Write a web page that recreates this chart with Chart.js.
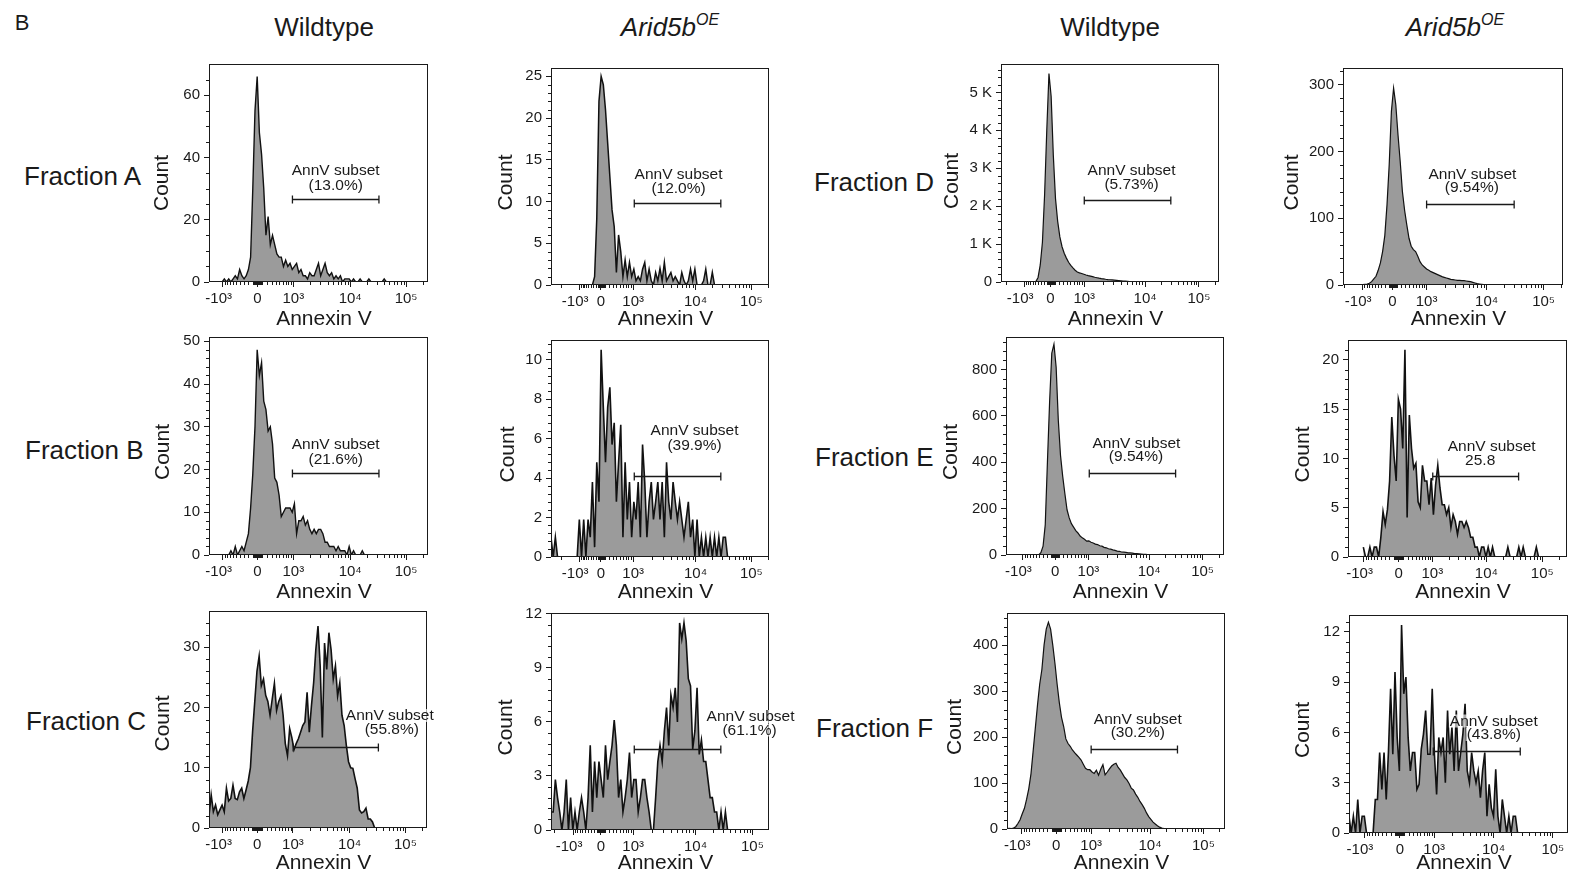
<!DOCTYPE html>
<html>
<head>
<meta charset="utf-8">
<title>Annexin V staining</title>
<script src="https://cdn.jsdelivr.net/npm/chart.js@4.4.1/dist/chart.umd.min.js"></script>
<style>
  html, body { margin: 0; padding: 0; background: #fff; }
  body { position: relative; width: 1576px; height: 877px; overflow: hidden;
         font-family: "Liberation Sans", Arial, Helvetica, sans-serif; color: #1a1a1a; }
  .lbl { position: absolute; white-space: nowrap; line-height: 1; transform: translate(-50%, -50%); }
  .row { position: absolute; white-space: nowrap; line-height: 1; transform: translateY(-50%); font-size: 26px; }
  .head { font-size: 26px; }
  .head sup { font-size: 16px; vertical-align: 0; position: relative; top: -11px; }
  canvas { position: absolute; }
</style>
</head>
<body>
<div class="lbl" style="left:22px;top:23px;font-size:22px">B</div>
<div class="lbl head" style="left:324px;top:27px">Wildtype</div>
<div class="lbl head" style="left:670px;top:27px"><i>Arid5b<sup>OE</sup></i></div>
<div class="lbl head" style="left:1110px;top:27px">Wildtype</div>
<div class="lbl head" style="left:1455px;top:27px"><i>Arid5b<sup>OE</sup></i></div>

<div class="row" style="left:24px;top:176px">Fraction A</div>
<div class="row" style="left:25px;top:450px">Fraction B</div>
<div class="row" style="left:26px;top:721px">Fraction C</div>
<div class="row" style="left:814px;top:182px">Fraction D</div>
<div class="row" style="left:815px;top:457px">Fraction E</div>
<div class="row" style="left:816px;top:728px">Fraction F</div>

<script>
// Annexin V histograms. The x axis is biexponential, so it is laid out in
// display units (0-100 across the plot); every histogram is a run of
// one-unit bins beginning at its start bin.
const xTickLabels = ['-10³\u2007', '0', '10³', '10⁴', '10⁵'];

// ---- Fraction A ----
const fracA_wt = [0,1,0,1,0,1,2,1,4,2,1,2,4,8,30,55,66,48,41,30,15,21,12,15,12,9,8,8,5,7,5,6,4,5,6,3,4,2,2,1,3,2,2,4,6,2,4,6,3,2,3,1,2,1,2,0,1,1,1,0,1,0,0,1,0,0,0,1,0,0,0,0,0,0,1,0];
const fracA_wt_from = 6;
const fracA_oe = [0,1,8,22,25,24,21,17,13,9,7,1.5,6,4,1,3,1,2.7,1,1.9,0.5,1,0.5,1.9,2.7,0.5,1.9,0.5,0,1.5,0.5,2,0.5,2.7,0.5,1,1.5,0.5,1,0.5,0,1.5,0.5,0,0.5,1.9,0.5,1.9,0,0,0,0.5,1.9,0,0,1.5,0];
const fracA_oe_from = 19;

// ---- Fraction B ----
const fracB_wt = [0,1,0,2,0,1,2,1,3,5,11,19,30,48,42,45,36,34,29,30,26,18,17,14,9,10,11,11,11,10,12,5,8,8,9,7,8,6,5,6,5,6,6,5,3,3,2,2,2,1,2,1,1,1,0,2,0,1,0,0,0,1,0];
const fracB_wt_from = 9;
const fracB_oe = [1,0,1,0,0,0,0,0,0,0,0,0,0,1.9,0,1.9,0,1.9,1,3.8,0.5,4.8,2.8,10.5,7.6,4.8,7.6,8.6,5.7,6.8,2.8,4.8,6.7,1,4.8,1.9,3.8,1,2.8,1.9,3.8,1,5.7,3.8,1,2.8,3.8,1.9,2.8,3.8,1.9,3.8,1,4.8,2.8,1.9,3.8,2.8,1.9,2.8,1.9,1,1.9,2.8,1,1.9,0,1.9,0,1,0,1,0,1,0,1,0,1,0,1,1,0];
const fracB_oe_from = 0;

// ---- Fraction C ----
const fracC_wt = [2,5.5,2.7,3.8,2.2,3,3.8,2.7,6.6,4.5,4.9,7.1,4.9,4.7,6,6.6,4.9,6.3,7.8,10,16,21,26,28.5,23.6,24.7,22,21,18.7,21.4,24,19.5,21,21.9,18.7,14,12,16.5,15,13,14,14.8,15.9,17,17.6,22.5,15.9,20.3,24.1,29.6,33.5,26.9,15,30.7,26.3,32.4,29.6,24.7,26.9,21.9,24.1,18.7,17,13.7,11,10,9.9,8.2,6.6,3,2.5,2.7,3.3,1.5,1.5,1,0];
const fracC_wt_from = 0;
const fracC_oe = [1,1,2.8,1.8,1,0,1,2.8,0,1.8,0,1,0,1,1.8,1,0,1.8,4.7,1,3.8,1.8,3.8,2.8,1.8,4.7,2.8,3.8,4.7,6.1,4.7,1.8,2.8,1,1.8,2.8,4.3,1.8,2.8,2.8,1,1.8,2.8,2.8,1.8,1,0,0,1.8,3.8,4.7,3.8,5.5,6.8,4.7,7.5,6.8,7.9,6,11.5,10.6,11.5,10.5,8.4,8,4.5,5.5,7.9,4.2,5,3.8,3.8,2.8,1.8,1.8,1,1,0,1,0,1,0];
const fracC_oe_from = 0;

// ---- Fraction D ----
const fracD_wt = [10,120,450,1050,2300,4000,5500,4900,3340,2200,1600,1190,930,760,630,520,440,370,310,265,240,225,205,185,170,157,142,125,112,100,90,82,72,65,60,55,50,45,38,32,27,22,15,8,3,0];
const fracD_wt_from = 16;
const fracD_oe = [0,0.5,1,1.5,2.5,5,9,13,22,33,50,74,120,180,260,295,270,225,185,140,112,90,70,58,53,50,43,35,30,27,24,22,20,18.5,17,15.5,14,12.5,11.5,10.5,9.5,8.5,8,7.5,7,7,6.5,6.5,6,5.5,5,4,3,2,1.5,1,0.5,0.3,0];
const fracD_oe_from = 8;

// ---- Fraction E ----
const fracE_wt = [0,10,38,130,400,660,870,909,810,580,430,340,265,195,160,135,120,105,95,82,74,68,60,61,55,52,47,45,40,38,33,31,27,25,22,20,17,16,13,12,11,9,9,8,6,6,5,4,3,2.5,2,1.5,0];
const fracE_wt_from = 15;
const fracE_oe = [1,0,0,1,0,1,1,0,2,4.6,3.3,4.8,7.7,14.2,10.3,7.7,16,15,11,21,4,14.4,11,9,9.5,5.6,5,9.3,7.7,7.7,5.3,8,4.3,7.3,9.3,7,5.3,5.3,4.3,5,3,4.3,3.6,2.3,3.6,3.6,3,3.6,3,2,2,1,1,0,1,1,0,1,0,1,0,0,0,0,0,0,1,0,0,0,0,1,0,1,0,0,0,0,0,1,0];
const fracE_oe_from = 7;

// ---- Fraction F ----
const fracF_wt = [1,1.5,1,2,5,12,20,33,45,65,88,120,170,220,270,315,347,400,435,450,435,400,360,315,275,243,223,196,186,180,172,166,161,156,150,141,132,129,129,124,121,128,117,130,140,118,124,131,137,141,143,134,128,120,112,107,99,89,85,76,69,60,53,45,35,27,21,15,11,7,4,2,1,0];
const fracF_wt_from = 0;
const fracF_oe = [1,0,1,0,2,0,1,1,0,0,0,0,2,2,4.8,2.6,4.8,2,4.8,8.6,4.7,9.6,5.7,3.7,12.4,8.3,9.3,5.7,3.7,4.8,4.8,2.6,2.9,5,5.9,7.3,4.7,4.7,8.6,4.7,2.3,5.7,4.8,5.7,3,7.3,4.7,6.3,3.7,7.3,3.7,4.8,5.9,7.7,3.7,3,4.8,3.7,3,3.7,2.1,3.7,4.8,1,2.9,1.5,1,3.8,1,0,2,1,0,1,0,1,1,0];
const fracF_oe_from = 0;

// x tick positions (-10^3, 0, 10^3, 10^4, 10^5) in display units
const xTicksA_wt = [6.3, 22.1, 38.5, 64.5, 90.0];
const xTicksA_oe = [13.0, 22.9, 37.7, 66.3, 91.9];
const xTicksB_wt = [6.3, 22.1, 38.5, 64.5, 90.0];
const xTicksB_oe = [13.0, 22.9, 37.7, 66.3, 91.9];
const xTicksC_wt = [6.3, 22.1, 38.5, 64.5, 90.1];
const xTicksC_oe = [10.2, 22.9, 37.7, 66.3, 92.4];
const xTicksD_wt = [10.7, 22.7, 38.2, 66.1, 90.8];
const xTicksD_oe = [8.8, 22.5, 38.0, 65.3, 91.2];
const xTicksE_wt = [7.6, 22.5, 37.8, 65.7, 90.2];
const xTicksE_oe = [7.2, 23.1, 38.5, 63.2, 88.7];
const xTicksF_wt = [6.6, 22.6, 38.6, 65.6, 90.1];
const xTicksF_oe = [6.9, 23.2, 38.9, 66.0, 93.1];

// AnnV gate: [from, to] in display units, drawn at a count level
const gateA_wt = [38.1, 77.6], gateA_wt_at = 26.5;
const gateA_oe = [38.2, 77.9], gateA_oe_at = 9.8;
const gateB_wt = [38.1, 77.6], gateB_wt_at = 19.3;
const gateB_oe = [38.2, 77.9], gateB_oe_at = 4.12;
const gateC_wt = [38.6, 77.7], gateC_wt_at = 13.4;
const gateC_oe = [38.2, 77.9], gateC_oe_at = 4.5;
const gateD_wt = [38.2, 77.9], gateD_wt_at = 2156;
const gateD_oe = [38.0, 77.8], gateD_oe_at = 121;
const gateE_wt = [38.2, 77.8], gateE_wt_at = 352;
const gateE_oe = [38.7, 77.9], gateE_oe_at = 8.23;
const gateF_wt = [38.6, 78.2], gateF_wt_at = 174;
const gateF_oe = [38.5, 78.2], gateF_oe_at = 4.88;

const INK = '#1a1a1a';
const FILL = '#9b9b9b';
const FONT = '"Liberation Sans", Arial, Helvetica, sans-serif';
const PAD = { l: 72, t: 12, r: 30, b: 56 };

Chart.defaults.font.family = FONT;
Chart.defaults.color = INK;

const kFmt = v => v >= 1000 ? (v / 1000) + ' K' : String(v);

// box: plot area [left, top, width, height]; lab: [dx, dy] of the two gate text lines;
// countD / annD: placement of the axis titles relative to the plot
const panels = [
  { counts: fracA_wt, from: fracA_wt_from, xTicks: xTicksA_wt, yTicks: [0,20,40,60], yMax: 70, yMinor: 5,
    gate: gateA_wt, gateAt: gateA_wt_at, pct: '(13.0%)', lw: 1.4,
    box: [209, 64, 219, 218], countD: [46.5, 10], annD: 37.5, lab: [0, -29, 0, -14] },
  { counts: fracA_oe, from: fracA_oe_from, xTicks: xTicksA_oe, yTicks: [0,5,10,15,20,25], yMax: 26, yMinor: 1,
    gate: gateA_oe, gateAt: gateA_oe_at, pct: '(12.0%)', lw: 1.5,
    box: [551, 68, 218, 217], countD: [44.3, 6], annD: 34.5, lab: [1, -29, 1, -15] },
  { counts: fracD_wt, from: fracD_wt_from, xTicks: xTicksD_wt, yTicks: [0,1000,2000,3000,4000,5000], yMax: 5750, yMinor: 200,
    gate: gateD_wt, gateAt: gateD_wt_at, pct: '(5.73%)', lw: 1.2,
    box: [1001, 64, 218, 218], countD: [49, 8], annD: 37.5, lab: [4, -30, 4, -16] },
  { counts: fracD_oe, from: fracD_oe_from, xTicks: xTicksD_oe, yTicks: [0,100,200,300], yMax: 325, yMinor: 20,
    gate: gateD_oe, gateAt: gateD_oe_at, pct: '(9.54%)', lw: 1.2,
    box: [1343, 68, 220, 217], countD: [51, 6], annD: 34.5, lab: [2, -30, 1.5, -16.5] },
  { counts: fracB_wt, from: fracB_wt_from, xTicks: xTicksB_wt, yTicks: [0,10,20,30,40,50], yMax: 51, yMinor: 2,
    gate: gateB_wt, gateAt: gateB_wt_at, pct: '(21.6%)', lw: 1.4,
    box: [209, 337, 219, 218], countD: [46.2, 6], annD: 37, lab: [0, -29, 0, -14] },
  { counts: fracB_oe, from: fracB_oe_from, xTicks: xTicksB_oe, yTicks: [0,2,4,6,8,10], yMax: 11, yMinor: 0.4,
    gate: gateB_oe, gateAt: gateB_oe_at, pct: '(39.9%)', lw: 1.6,
    box: [551, 340, 218, 217], countD: [42.7, 6], annD: 35, lab: [17, -46, 17, -31] },
  { counts: fracE_wt, from: fracE_wt_from, xTicks: xTicksE_wt, yTicks: [0,200,400,600,800], yMax: 940, yMinor: 40,
    gate: gateE_wt, gateAt: gateE_wt_at, pct: '(9.54%)', lw: 1.2,
    box: [1006, 337, 218, 218], countD: [54.3, 6], annD: 37, lab: [4, -30, 3.5, -16.5] },
  { counts: fracE_oe, from: fracE_oe_from, xTicks: xTicksE_oe, yTicks: [0,5,10,15,20], yMax: 22, yMinor: 1,
    gate: gateE_oe, gateAt: gateE_oe_at, pct: '25.8', lw: 1.6,
    box: [1348, 340, 219, 217], countD: [44.3, 6], annD: 35, lab: [16, -29.5, 4.5, -16] },
  { counts: fracC_wt, from: fracC_wt_from, xTicks: xTicksC_wt, yTicks: [0,10,20,30], yMax: 36, yMinor: 2,
    gate: gateC_wt, gateAt: gateC_wt_at, pct: '(55.8%)', lw: 1.6,
    box: [209, 611, 218, 217], countD: [46.2, 4], annD: 35, lab: [54, -31.5, 56, -18] },
  { counts: fracC_oe, from: fracC_oe_from, xTicks: xTicksC_oe, yTicks: [0,3,6,9,12], yMax: 12.05, yMinor: 0.6,
    gate: gateC_oe, gateAt: gateC_oe_at, pct: '(61.1%)', lw: 1.6,
    box: [551, 613, 218, 217], countD: [44.3, 6], annD: 33, lab: [73, -32.5, 72, -19] },
  { counts: fracF_wt, from: fracF_wt_from, xTicks: xTicksF_wt, yTicks: [0,100,200,300,400], yMax: 470, yMinor: 20,
    gate: gateF_wt, gateAt: gateF_wt_at, pct: '(30.2%)', lw: 1.2,
    box: [1007, 613, 218, 216], countD: [51.7, 6], annD: 34, lab: [3.5, -29.5, 3.5, -17] },
  { counts: fracF_oe, from: fracF_oe_from, xTicks: xTicksF_oe, yTicks: [0,3,6,9,12], yMax: 13, yMinor: 0.6,
    gate: gateF_oe, gateAt: gateF_oe_at, pct: '(43.8%)', lw: 1.6,
    box: [1349, 615, 219, 218], countD: [46, 6], annD: 30, lab: [17, -30, 17, -16.5] }
];

// minor tick positions on the biexponential axis (display units)
function xMinorTicks(t) {
  const [pm, p0, p3, p4, p5] = t;
  const lin = p3 - p0, dec = p4 - p3, dec5 = p5 - p4;
  const W = 1000 / Math.sinh(Math.LN10 * lin / dec);
  const a = Math.asinh(1000 / W);
  const out = [];
  for (const n of [10, 100]) {
    for (let k = 1; k <= 9; k++) {
      const s = Math.asinh(k * n / W) / a;
      out.push(p0 + lin * s, p0 - (p0 - pm) * s);
    }
  }
  for (let k = 2; k <= 9; k++) {
    const l = Math.log10(k);
    out.push(p3 + dec * l, p4 + dec5 * l, p5 + dec5 * l, pm - dec * l);
  }
  return out.filter(u => u > 0.3 && u < 99.7);
}

function decor(p) {
  return {
    id: 'decor',
    afterDatasetsDraw(chart) {
      const { ctx, chartArea: a, scales: { x, y } } = chart;
      ctx.save();
      ctx.strokeStyle = INK;
      ctx.lineWidth = 1;
      ctx.strokeRect(a.left + 0.5, a.top + 0.5, a.width - 1, a.height - 1);

      // minor ticks
      ctx.beginPath();
      for (const u of xMinorTicks(p.xTicks)) {
        const px = Math.round(x.getPixelForValue(u)) + 0.5;
        ctx.moveTo(px, a.bottom);
        ctx.lineTo(px, a.bottom + 3);
      }
      for (let v = p.yMinor; v < p.yMax; v += p.yMinor) {
        if (p.yTicks.some(t => Math.abs(t - v) < 1e-6)) continue;
        const py = Math.round(y.getPixelForValue(v)) + 0.5;
        ctx.moveTo(a.left - 3, py);
        ctx.lineTo(a.left, py);
      }
      ctx.stroke();

      // AnnV gate
      const gy = Math.round(y.getPixelForValue(p.gateAt)) + 0.5;
      const g1 = x.getPixelForValue(p.gate[0]);
      const g2 = x.getPixelForValue(p.gate[1]);
      ctx.lineWidth = 1.3;
      ctx.beginPath();
      ctx.moveTo(g1, gy); ctx.lineTo(g2, gy);
      ctx.moveTo(g1, gy - 4); ctx.lineTo(g1, gy + 4);
      ctx.moveTo(g2, gy - 4); ctx.lineTo(g2, gy + 4);
      ctx.stroke();

      const cx = (g1 + g2) / 2;
      ctx.font = '15.5px ' + FONT;
      ctx.textAlign = 'center';
      ctx.textBaseline = 'middle';
      const lines = [['AnnV subset', p.lab[0], p.lab[1]], [p.pct, p.lab[2], p.lab[3]]];
      for (const [s, dx, dy] of lines) {
        const w = ctx.measureText(s).width;
        ctx.fillStyle = 'rgba(255,255,255,0.65)';
        ctx.fillRect(cx + dx - w / 2 - 1, gy + dy - 7, w + 2, 13);
      }
      ctx.fillStyle = INK;
      for (const [s, dx, dy] of lines) ctx.fillText(s, cx + dx, gy + dy);

      // axis titles
      ctx.font = '21px ' + FONT;
      ctx.fillText('Annexin V', (a.left + a.right) / 2 + 5.5, a.bottom + p.annD);
      ctx.translate(a.left - p.countD[0], (a.top + a.bottom) / 2 + p.countD[1]);
      ctx.rotate(-Math.PI / 2);
      ctx.fillText('Count', 0, 0);
      ctx.restore();
    }
  };
}

function build(p) {
  const [L, T, W, H] = p.box;
  const cv = document.createElement('canvas');
  cv.width = PAD.l + W + PAD.r;
  cv.height = PAD.t + H + PAD.b;
  cv.style.left = (L - PAD.l) + 'px';
  cv.style.top = (T - PAD.t) + 'px';
  cv.style.width = cv.width + 'px';
  cv.style.height = cv.height + 'px';
  document.body.appendChild(cv);

  new Chart(cv, {
    type: 'line',
    data: {
      datasets: [{
        data: p.counts.map((c, i) => ({ x: p.from + i, y: c })),
        borderColor: '#111',
        borderWidth: p.lw,
        backgroundColor: FILL,
        fill: 'origin',
        pointRadius: 0,
        tension: 0
      }]
    },
    options: {
      responsive: false,
      animation: false,
      devicePixelRatio: 1,
      layout: { padding: { left: 0, top: PAD.t, right: PAD.r, bottom: 0 } },
      plugins: { legend: { display: false }, tooltip: { enabled: false } },
      scales: {
        x: {
          type: 'linear', min: 0, max: 100,
          afterBuildTicks: s => { s.ticks = p.xTicks.map(v => ({ value: v })); },
          afterFit: s => { s.height = PAD.b; s.paddingLeft = 0; s.paddingRight = 0; },
          ticks: { autoSkip: false, maxRotation: 0, padding: 3, font: { size: 15 }, color: INK,
                   callback: (v, i) => xTickLabels[i] },
          grid: { drawOnChartArea: false, tickLength: 5, color: INK, lineWidth: 1 },
          border: { display: false }
        },
        y: {
          type: 'linear', min: 0, max: p.yMax,
          afterBuildTicks: s => { s.ticks = p.yTicks.map(v => ({ value: v })); },
          afterFit: s => { s.width = PAD.l; s.paddingTop = 0; s.paddingBottom = 0; },
          ticks: { padding: 4, font: { size: 15 }, color: INK, callback: v => kFmt(v) },
          grid: { drawOnChartArea: false, tickLength: 5, color: INK, lineWidth: 1 },
          border: { display: false }
        }
      }
    },
    plugins: [decor(p)]
  });
}

panels.forEach(build);
</script>
</body>
</html>
